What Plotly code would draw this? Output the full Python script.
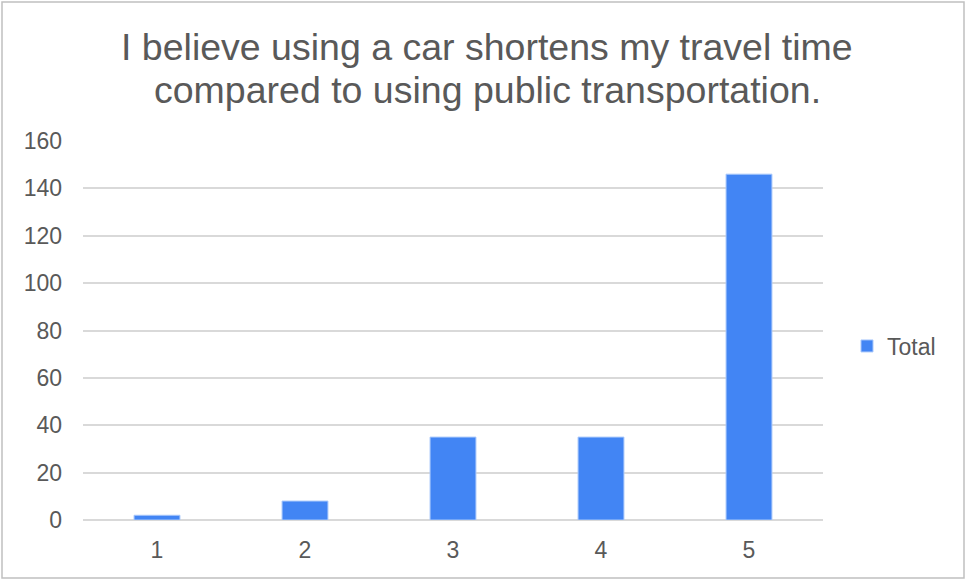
import plotly.graph_objects as go

# Survey responses (Likert scale 1-5) and their counts
categories = ["1", "2", "3", "4", "5"]
totals = [2, 8, 35, 35, 146]
y_ticks = [0, 20, 40, 60, 80, 100, 120, 140, 160]
title_lines = [
    "I believe using a car shortens my travel time",
    "compared to using public transportation.",
]

W, H = 966, 581
left, right, top, bottom = 83, 143, 141, 61
plot_w = W - left - right
plot_h = H - top - bottom
text_color = "#595959"


def px_to_paper_y(py):
    return (H - bottom - py) / plot_h


def px_to_paper_x(px):
    return (px - left) / plot_w


fig = go.Figure()
fig.add_trace(go.Bar(
    x=categories,
    y=totals,
    name="Total",
    marker=dict(color="#4285F4", line=dict(color="#a9c8fb", width=1)),
))

# Two-line chart title placed line by line
title_annotations = [
    dict(
        text=line,
        xref="paper",
        yref="paper",
        x=px_to_paper_x(487),
        y=px_to_paper_y(py),
        xanchor="center",
        yanchor="middle",
        showarrow=False,
        font=dict(size=37.5, color=text_color),
    )
    for line, py in zip(title_lines, [47, 90])
]

fig.update_layout(
    width=W,
    height=H,
    margin=dict(l=left, r=right, t=top, b=bottom),
    paper_bgcolor="white",
    plot_bgcolor="white",
    font=dict(family="Liberation Sans, Arial, sans-serif", color=text_color, size=23),
    bargap=0.69,
    showlegend=True,
    legend=dict(
        x=px_to_paper_x(847),
        y=px_to_paper_y(346),
        xanchor="left",
        yanchor="middle",
        itemwidth=30,
        font=dict(size=23, color=text_color),
        bgcolor="rgba(0,0,0,0)",
    ),
    xaxis=dict(
        type="category",
        showgrid=False,
        showline=False,
        ticks="",
        tickfont=dict(size=23, color=text_color),
        ticklabelstandoff=14,
    ),
    yaxis=dict(
        range=[0, 160],
        tickvals=y_ticks,
        showgrid=True,
        gridcolor="#d9d9d9",
        gridwidth=1.5,
        zeroline=True,
        zerolinecolor="#d9d9d9",
        zerolinewidth=2,
        showline=False,
        ticks="",
        tickfont=dict(size=23, color=text_color),
        ticklabelstandoff=20,
    ),
    annotations=title_annotations,
    shapes=[
        dict(
            type="rect",
            xref="paper",
            yref="paper",
            x0=px_to_paper_x(2),
            x1=px_to_paper_x(964),
            y0=px_to_paper_y(578),
            y1=px_to_paper_y(2),
            line=dict(color="#c0c0c0", width=1.5),
            fillcolor="rgba(0,0,0,0)",
            layer="below",
        )
    ],
)

fig.write_html("out.html")
